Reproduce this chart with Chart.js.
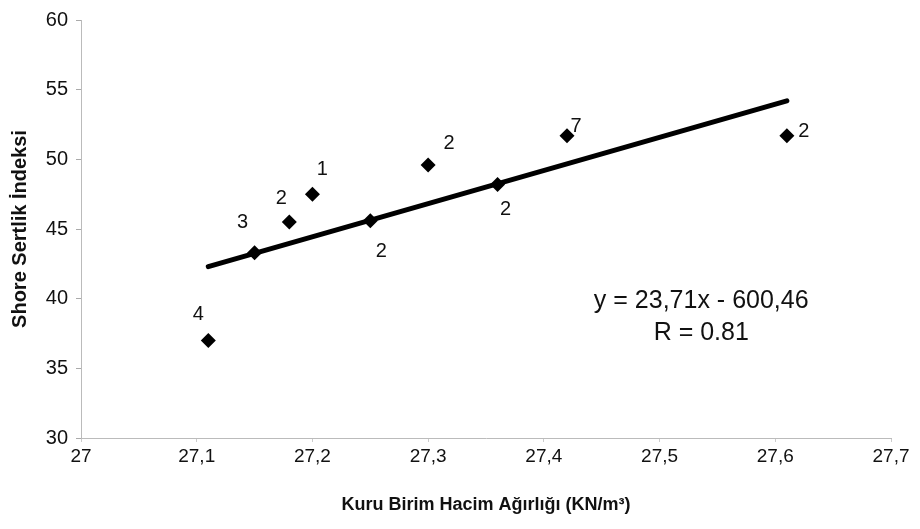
<!DOCTYPE html>
<html lang="tr">
<head>
  <meta charset="UTF-8">
  <title>Shore Sertlik İndeksi - Kuru Birim Hacim Ağırlığı</title>
  <script src="https://cdn.jsdelivr.net/npm/chart.js"></script>
  <style>
    html, body { margin: 0; padding: 0; background: #fff; }
    #wrap { width: 920px; height: 529px; }
  </style>
</head>
<body>
  <div id="wrap"><canvas id="shoreChart" width="920" height="529"></canvas></div>

  <script>
    const dryUnitWeight = [27.11, 27.15, 27.18, 27.20, 27.25, 27.30, 27.36, 27.42, 27.61];
    const shoreIndex    = [37.0, 43.3, 45.5, 47.5, 45.6, 49.6, 48.2, 51.7, 51.7];
    const sampleCounts  = ['4', '3', '2', '1', '2', '2', '2', '7', '2'];

    // trend line end points
    const trendX = [27.11, 27.61];
    const trendY = [42.3, 54.2];

    const xTicks = [27, 27.1, 27.2, 27.3, 27.4, 27.5, 27.6, 27.7];
    const yTicks = [30, 35, 40, 45, 50, 55, 60];

    const equationLines = ['y = 23,71x - 600,46', 'R = 0.81'];

    const FONT = "'Liberation Sans', Arial, Helvetica, sans-serif";

    // where each count label sits relative to its diamond (px)
    const labelShift = [[-10, -26], [-12, -30], [-8, -24], [10, -25], [11, 31], [21, -21], [8, 25], [9, -9], [17, -4]];

    const countLabels = {
      id: 'countLabels',
      afterDatasetsDraw(chart) {
        const ctx = chart.ctx;
        const meta = chart.getDatasetMeta(1);
        ctx.save();
        ctx.fillStyle = '#111';
        ctx.font = '20px ' + FONT;
        ctx.textAlign = 'center';
        ctx.textBaseline = 'middle';
        meta.data.forEach((pt, i) => {
          const s = labelShift[i];
          ctx.fillText(sampleCounts[i], pt.x + s[0], pt.y + s[1]);
        });

        // regression equation
        const xs = chart.scales.x, ys = chart.scales.y;
        const cx = xs.getPixelForValue(27.536);
        ctx.font = '25px ' + FONT;
        ctx.fillText(equationLines[0], cx, ys.getPixelForValue(39.84));
        ctx.fillText(equationLines[1], cx, ys.getPixelForValue(37.55));
        ctx.restore();
      }
    };

    const ctx = document.getElementById('shoreChart').getContext('2d');
    new Chart(ctx, {
      type: 'scatter',
      data: {
        datasets: [
          {
            label: 'Trend',
            data: trendX.map((x, i) => ({ x: x, y: trendY[i] })),
            showLine: true,
            borderColor: '#000',
            borderWidth: 5,
            borderCapStyle: 'round',
            pointRadius: 0,
            order: 2
          },
          {
            label: 'Shore',
            data: dryUnitWeight.map((x, i) => ({ x: x, y: shoreIndex[i] })),
            pointStyle: 'rectRot',
            pointRadius: 7.5,
            backgroundColor: '#000',
            borderColor: '#000',
            borderWidth: 0,
            order: 1
          }
        ]
      },
      options: {
        responsive: false,
        animation: false,
        layout: { padding: { top: 17, right: 29, left: 0, bottom: 0 } },
        plugins: {
          legend: { display: false },
          tooltip: { enabled: false }
        },
        scales: {
          x: {
            type: 'linear',
            min: 27,
            max: 27.7,
            afterBuildTicks: s => { s.ticks = xTicks.map(v => ({ value: v })); },
            afterFit: s => { s.height = 91; },
            ticks: {
              color: '#111',
              font: { family: FONT, size: 19 },
              padding: 3,
              maxRotation: 0,
              callback: v => (v === 27 ? '27' : v.toFixed(1).replace('.', ','))
            },
            grid: { drawOnChartArea: false, color: '#ccc', tickLength: 4 },
            border: { display: true, color: '#bbb', width: 1, dash: [3, 4] },
            title: {
              display: true,
              text: 'Kuru Birim Hacim Ağırlığı (KN/m³)',
              color: '#111',
              font: { family: FONT, size: 18, weight: 'bold' },
              padding: { top: 0, bottom: 13 }
            }
          },
          y: {
            type: 'linear',
            min: 30,
            max: 60,
            afterBuildTicks: s => { s.ticks = yTicks.map(v => ({ value: v })); },
            afterFit: s => { s.width = 81; },
            ticks: {
              color: '#111',
              font: { family: FONT, size: 20 },
              padding: 8
            },
            grid: { drawOnChartArea: false, color: '#aaa', tickLength: 5 },
            border: { display: true, color: '#bbb', width: 1, dash: [3, 4] },
            title: {
              display: true,
              text: 'Shore Sertlik İndeksi',
              color: '#111',
              font: { family: FONT, size: 20, weight: 'bold' },
              padding: { top: 8, bottom: 0 }
            }
          }
        }
      },
      plugins: [countLabels]
    });
  </script>
</body>
</html>
